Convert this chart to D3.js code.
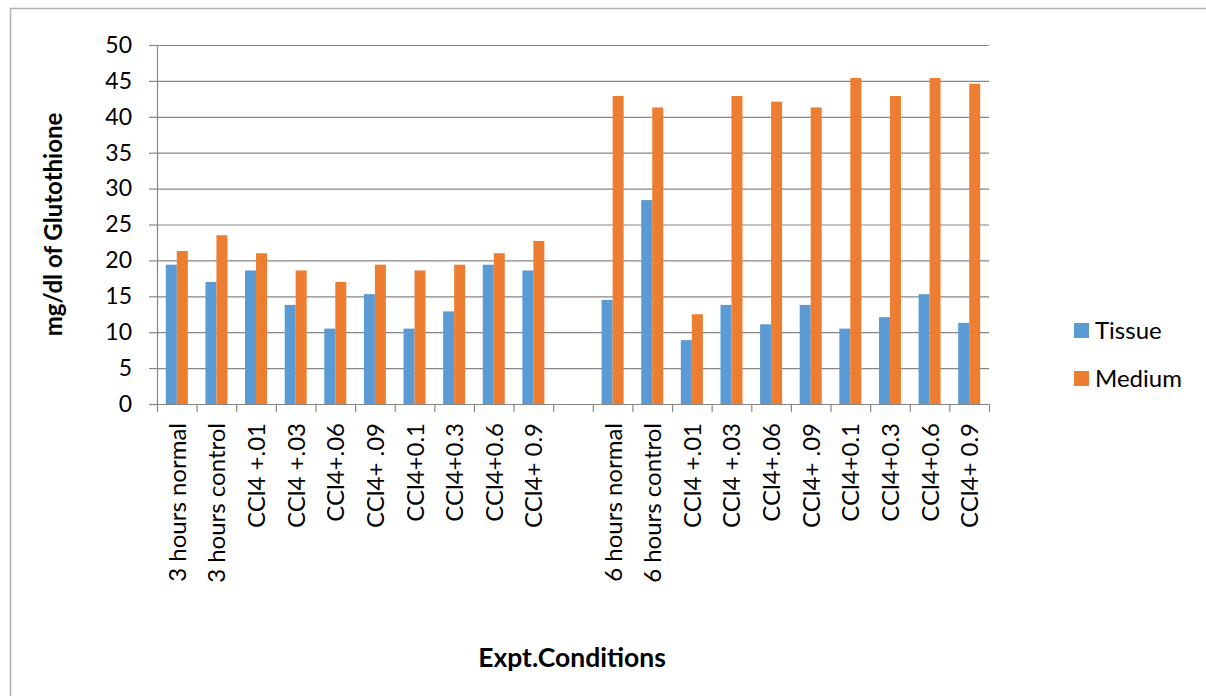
<!DOCTYPE html>
<html>
<head>
<meta charset="utf-8">
<script src="https://cdn.jsdelivr.net/npm/d3@7/dist/d3.min.js"></script>
<style>
  html, body { margin: 0; padding: 0; background: #fff; overflow: hidden; }
  svg { display: block; font-family: Lato, "Open Sans", sans-serif; }
</style>
</head>
<body>
<svg id="chart" width="1206" height="696"></svg>
<script>
// Experimental conditions (an empty slot separates the 3 h and 6 h groups)
const categories = [
  "3 hours normal", "3 hours control", "CCl4 +.01", "CCl4 +.03", "CCl4+.06",
  "CCl4+ .09", "CCl4+0.1", "CCl4+0.3", "CCl4+0.6", "CCl4+ 0.9",
  "",
  "6 hours normal", "6 hours control", "CCl4 +.01", "CCl4 +.03", "CCl4+.06",
  "CCl4+ .09", "CCl4+0.1", "CCl4+0.3", "CCl4+0.6", "CCl4+ 0.9"
];
const seriesNames = ["Tissue", "Medium"];
const tissue = [19.4, 17.0, 18.6, 13.8, 10.5, 15.3, 10.5, 12.9, 19.4, 18.6,
                null,
                14.5, 28.4, 8.9, 13.8, 11.1, 13.8, 10.5, 12.1, 15.3, 11.3];
const medium = [21.3, 23.5, 21.0, 18.6, 17.0, 19.4, 18.6, 19.4, 21.0, 22.7,
                null,
                42.9, 41.3, 12.5, 42.9, 42.1, 41.3, 45.4, 42.9, 45.4, 44.6];
const yTicks = [0, 5, 10, 15, 20, 25, 30, 35, 40, 45, 50];
const colors = ["#5B9BD5", "#ED7D31"];

const svg = d3.select("#chart");
const m = { left: 157, right: 989, top: 45, bottom: 404 };

// Chart-area frame (top and left edges fall inside the page)
svg.append("path")
  .attr("d", "M10.5,700 V8.5 H1210")
  .attr("fill", "none").attr("stroke", "#b0b0b0").attr("stroke-width", 1.5);

const idx = categories.map((d, i) => i);
const x0 = d3.scaleBand().domain(idx).range([m.left, m.right]).padding(0);
const x1 = d3.scaleBand().domain(seriesNames).range([0, x0.bandwidth()])
  .paddingInner(0).paddingOuter(0.8);
const y = d3.scaleLinear().domain([0, 50]).range([m.bottom, m.top]);

// Value axis with left tick marks
const yAxis = svg.append("g")
  .attr("transform", `translate(${m.left},0)`)
  .call(d3.axisLeft(y).tickValues(yTicks).tickSize(8).tickPadding(17));
yAxis.select(".domain").attr("stroke", "#868686").attr("stroke-width", 1.2);
yAxis.selectAll(".tick line").attr("stroke", "#868686").attr("stroke-width", 1.2);
yAxis.selectAll(".tick text")
  .attr("font-size", 23).attr("fill", "#000")
  .attr("font-family", "Lato, sans-serif");

// Horizontal gridlines
svg.append("g").selectAll("line").data(yTicks).join("line")
  .attr("x1", m.left).attr("x2", m.right)
  .attr("y1", d => y(d) + 0.5).attr("y2", d => y(d) + 0.5)
  .attr("stroke", "#868686").attr("stroke-width", 1.2);

// Bars
const rows = idx.filter(i => tissue[i] != null).map(i => ({
  i, vals: [tissue[i], medium[i]]
}));
svg.append("g").selectAll("g").data(rows).join("g")
  .attr("transform", d => `translate(${x0(d.i)},0)`)
  .selectAll("rect")
  .data(d => d.vals.map((v, k) => ({ k, v })))
  .join("rect")
  .attr("x", d => x1(seriesNames[d.k]))
  .attr("width", x1.bandwidth())
  .attr("y", d => y(d.v))
  .attr("height", d => y(0) - y(d.v))
  .attr("fill", d => colors[d.k]);

// Category axis: tick marks at category boundaries, rotated labels
const boundaries = d3.range(categories.length + 1)
  .map(i => m.left + i * x0.step());
svg.append("g").selectAll("line").data(boundaries).join("line")
  .attr("x1", d => d + 0.5).attr("x2", d => d + 0.5)
  .attr("y1", m.bottom).attr("y2", m.bottom + 8)
  .attr("stroke", "#868686").attr("stroke-width", 1.2);
svg.append("line")
  .attr("x1", m.left).attr("x2", m.right)
  .attr("y1", m.bottom + 0.5).attr("y2", m.bottom + 0.5)
  .attr("stroke", "#868686").attr("stroke-width", 1.2);

svg.append("g").selectAll("text").data(idx).join("text")
  .attr("transform", i => `translate(${x0(i) + x0.bandwidth() / 2 + 9},423) rotate(-90)`)
  .attr("text-anchor", "end")
  .attr("font-size", 24)
  .attr("fill", "#000")
  .text(i => categories[i]);

// Axis titles
svg.append("text")
  .attr("transform", `translate(62,${(m.top + m.bottom) / 2}) rotate(-90)`)
  .attr("text-anchor", "middle")
  .attr("font-size", 24).attr("font-weight", "bold")
  .text("mg/dl of Glutothione");

svg.append("text")
  .attr("x", 572).attr("y", 667)
  .attr("text-anchor", "middle")
  .attr("font-size", 26.5).attr("font-weight", "bold")
  .text("Expt.Conditions");

// Legend
const legend = svg.append("g").selectAll("g").data(seriesNames).join("g")
  .attr("transform", (d, k) => `translate(1074,${323 + k * 48})`);
legend.append("rect")
  .attr("width", 15).attr("height", 15)
  .attr("fill", (d, k) => colors[k]);
legend.append("text")
  .attr("x", 21).attr("y", 16)
  .attr("font-size", 24)
  .text(d => d);
</script>
</body>
</html>
